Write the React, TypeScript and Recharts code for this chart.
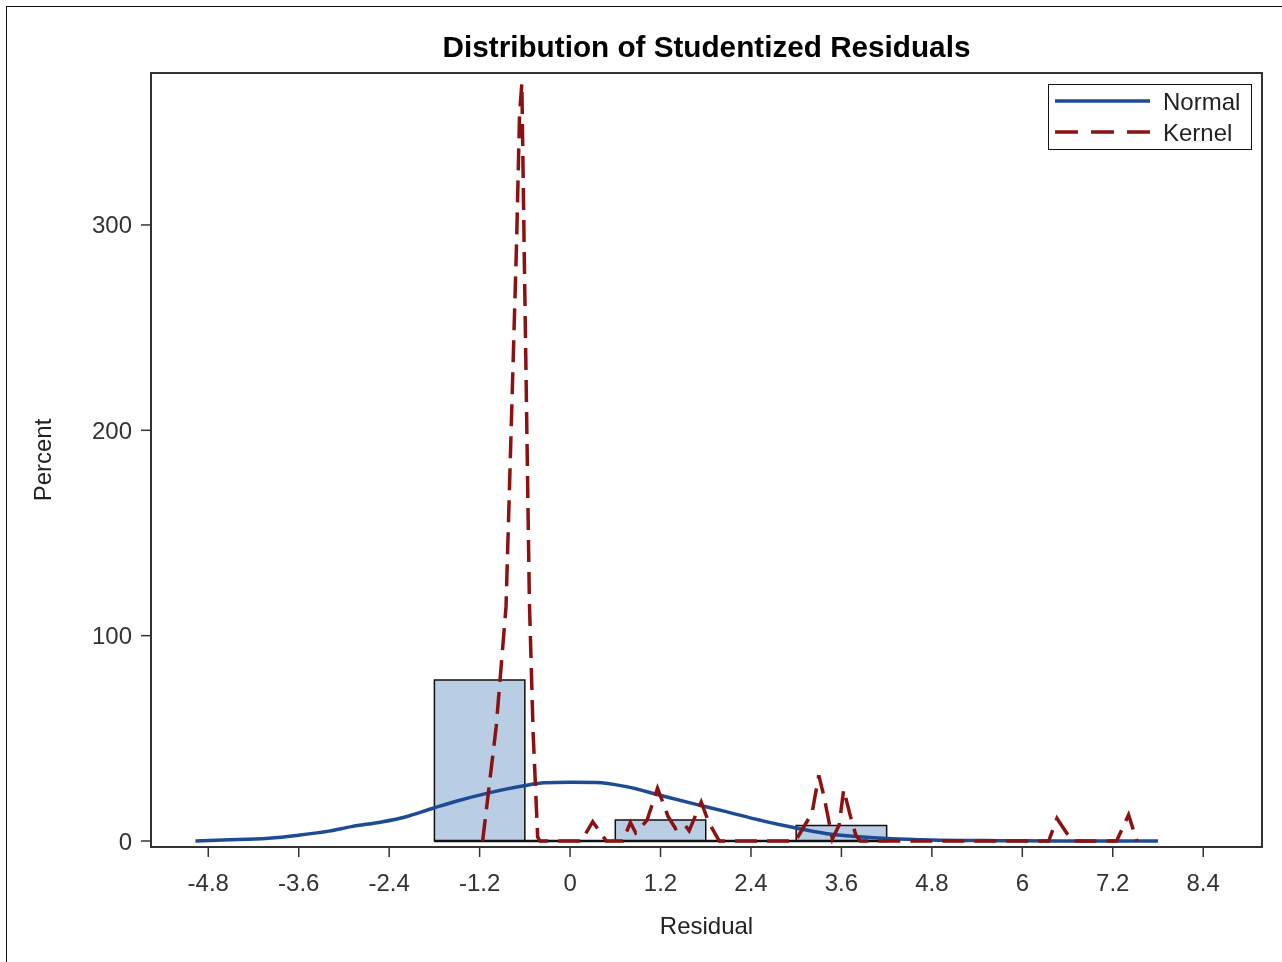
import {
  ComposedChart,
  Line,
  XAxis,
  YAxis,
  ReferenceArea,
  ReferenceLine,
  Label,
} from "recharts";

// histogram bins (percent)
const binStart = [-1.8, -0.6, 0.6, 1.8, 3.0];
const binEnd = [-0.6, 0.6, 1.8, 3.0, 4.2];
const binPercent = [78.4, 0, 10.2, 0, 7.6];

// normal density curve
const normalX = [
  -4.97, -4.6, -4.0, -3.6, -3.2, -2.9, -2.5, -2.2, -1.8, -1.5, -1.16, -0.63, -0.34, 0.0, 0.35,
  0.74, 1.18, 1.62, 2.07, 2.51, 2.95, 3.39, 3.83, 4.27, 4.8, 5.5, 6.5, 7.8,
];
const normalY = [
  0, 0.5, 1.3, 2.8, 4.8, 7.0, 9.3, 11.6, 16.2, 19.5, 22.7, 26.8, 28.4, 28.6, 28.5, 26.5, 22.4,
  18.3, 14.3, 10.2, 6.7, 3.7, 2.1, 1.1, 0.5, 0.2, 0, 0,
];

// kernel density curve
const kernelX = [
  -1.16, -0.98, -0.85, -0.71, -0.67, -0.64, -0.61, -0.54, -0.49, -0.43, -0.4, 0.15, 0.3, 0.48,
  0.7, 0.8, 0.87, 1.02, 1.16, 1.3, 1.4, 1.52, 1.58, 1.74, 1.84, 1.98, 2.99, 3.21, 3.3, 3.37,
  3.48, 3.57, 3.63, 3.72, 3.79, 3.85, 6.35, 6.46, 6.66, 7.25, 7.41, 7.52,
];
const kernelY = [
  0, 55.7, 114, 291, 354, 369, 291, 117, 52.6, 2, 0, 0, 9.4, 0, 0, 9, 4, 10, 25.7, 12, 6, 8, 5,
  19, 9, 0, 0, 13.6, 32, 21.5, 1, 7.8, 25, 12, 3, 0, 0, 11, 0, 0, 12.7, 0,
];

const xTicks = [-4.8, -3.6, -2.4, -1.2, 0, 1.2, 2.4, 3.6, 4.8, 6, 7.2, 8.4];
const yTicks = [0, 100, 200, 300];
const xDomain = [-5.56, 9.18];
const yDomain = [-2.92, 374];

const legendNames = ["Normal", "Kernel"];

const FONT = "'Liberation Sans', Arial, sans-serif";
const BLUE = "#1D4C95";
const RED = "#8C1212";

const normalData = normalX.map((x, i) => ({ x, y: normalY[i] }));
const kernelData = kernelX.map((x, i) => ({ x, y: kernelY[i] }));

function LegendBox() {
  return (
    <div
      style={{
        position: "absolute",
        left: 1048,
        top: 84,
        width: 204,
        height: 66,
        border: "1.5px solid #111",
        background: "#fff",
        boxSizing: "border-box",
      }}
    >
      <svg width={201} height={63} style={{ display: "block" }}>
        {legendNames.map((name, i) => (
          <g key={name}>
            <line
              x1={6}
              x2={101}
              y1={16 + i * 31}
              y2={16 + i * 31}
              stroke={i === 0 ? BLUE : RED}
              strokeWidth={3.5}
              strokeDasharray={i === 0 ? undefined : "23 13"}
            />
            <text x={114} y={24.5 + i * 31} fontFamily={FONT} fontSize={24} fill="#222">
              {name}
            </text>
          </g>
        ))}
      </svg>
    </div>
  );
}

export default function App() {
  return (
    <div style={{ position: "absolute", left: 0, top: 0, width: 1282, height: 962, background: "#fff" }}>
      <div
        style={{
          position: "fixed",
          left: 6,
          top: 6,
          width: 1290,
          height: 980,
          border: "1.5px solid #111",
          boxSizing: "border-box",
        }}
      />
      <svg style={{ position: "absolute", left: 0, top: 0 }} width={1282} height={80}>
        <text
          x={706.5}
          y={57}
          textAnchor="middle"
          fontFamily={FONT}
          fontWeight="bold"
          fontSize={29.7}
          fill="#000"
        >
          Distribution of Studentized Residuals
        </text>
      </svg>
      <div style={{ position: "absolute", left: 0, top: 0 }}>
        <ComposedChart
          width={1282}
          height={962}
          margin={{ top: 73, right: 20, bottom: 20, left: 31 }}
        >
          <XAxis
            dataKey="x"
            type="number"
            domain={xDomain}
            ticks={xTicks}
            allowDataOverflow
            axisLine={false}
            tickSize={10}
            tickMargin={17}
            height={95}
            tick={{ fontFamily: FONT, fontSize: 24, fill: "#333" }}
            tickLine={{ stroke: "#333", strokeWidth: 1.5 }}
          >
            <Label
              value="Residual"
              position="insideBottom"
              offset={8}
              style={{ fontFamily: FONT, fontSize: 24, fill: "#222" }}
            />
          </XAxis>
          <YAxis
            type="number"
            domain={yDomain}
            ticks={yTicks}
            allowDataOverflow
            axisLine={false}
            width={120}
            tickSize={10}
            tickMargin={9}
            tick={{ fontFamily: FONT, fontSize: 24, fill: "#333" }}
            tickLine={{ stroke: "#333", strokeWidth: 1.5 }}
          >
            <Label
              content={(props: any) => {
                const vb = props.viewBox || { x: 31, y: 73, height: 774 };
                const cx = vb.x + 11;
                const cy = vb.y + vb.height / 2;
                return (
                  <text
                    x={cx}
                    y={cy}
                    transform={`rotate(-90, ${cx}, ${cy})`}
                    textAnchor="middle"
                    dominantBaseline="central"
                    fontFamily={FONT}
                    fontSize={24}
                    fill="#222"
                  >
                    Percent
                  </text>
                );
              }}
            />
          </YAxis>
          {binStart.map((s, i) =>
            binPercent[i] > 0 ? (
              <ReferenceArea
                key={"bin" + i}
                x1={s}
                x2={binEnd[i]}
                y1={0}
                y2={binPercent[i]}
                fill="#B9CDE5"
                fillOpacity={1}
                stroke="#111"
                strokeWidth={1.5}
              />
            ) : null
          )}
          {binStart.map((s, i) => (
            <ReferenceLine
              key={"base" + i}
              segment={[
                { x: s, y: 0 },
                { x: binEnd[i], y: 0 },
              ]}
              stroke="#111"
              strokeWidth={2.5}
            />
          ))}
          <Line
            data={normalData}
            dataKey="y"
            type="monotone"
            stroke={BLUE}
            strokeWidth={3.5}
            dot={false}
            isAnimationActive={false}
            name="Normal"
          />
          <Line
            data={kernelData}
            dataKey="y"
            type="linear"
            stroke={RED}
            strokeWidth={3.5}
            strokeDasharray="22 10"
            dot={false}
            isAnimationActive={false}
            name="Kernel"
          />
          <ReferenceArea
            x1={xDomain[0]}
            x2={xDomain[1]}
            y1={yDomain[0]}
            y2={yDomain[1]}
            fill="none"
            stroke="#333"
            strokeWidth={2}
          />
        </ComposedChart>
      </div>
      <LegendBox />
    </div>
  );
}
